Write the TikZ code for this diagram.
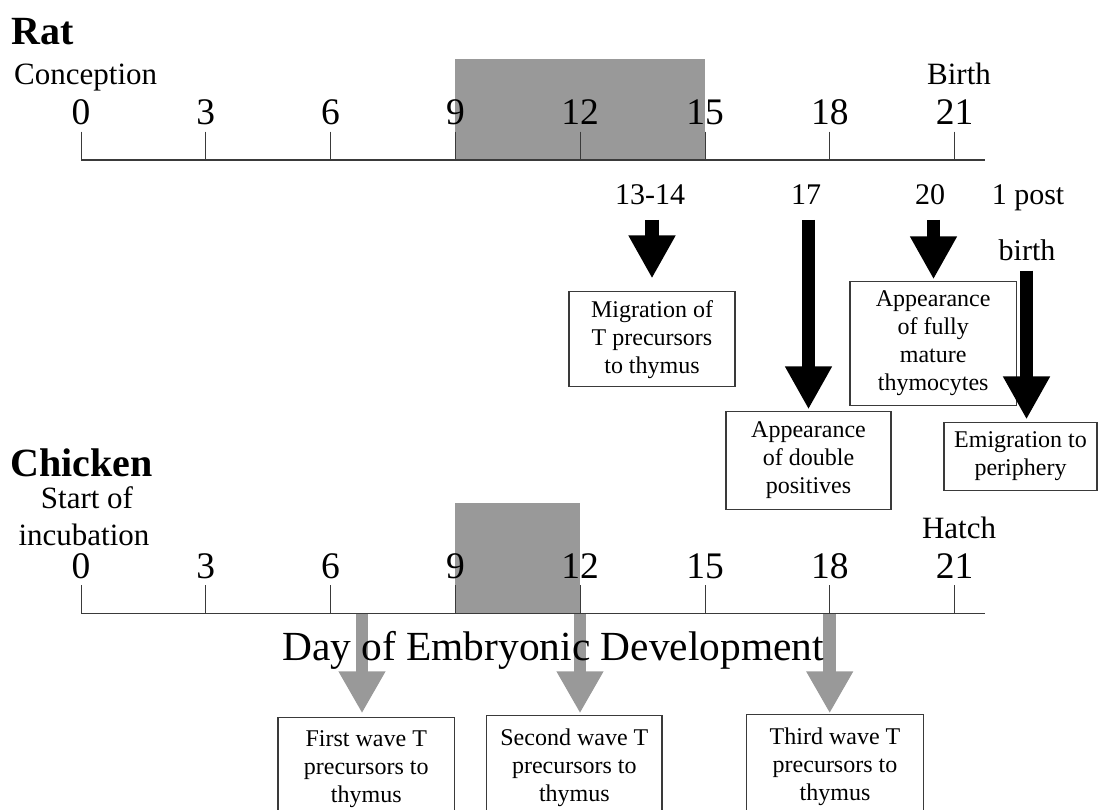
\documentclass[tikz,border=0pt]{standalone}
\usepackage{fontspec}
\setmainfont{Liberation Serif}
\usetikzlibrary{arrows.meta,calc}
\definecolor{bandgray}{HTML}{999999}
\definecolor{linegray}{HTML}{3A3A3A}
\begin{document}
\begin{tikzpicture}[x=1pt,y=-1pt,
  axisline/.style={draw=linegray,line width=1.6pt},
  tickline/.style={draw=linegray,line width=1pt},
  num/.style={font=\fontsize{37.5}{40}\selectfont,anchor=base,inner sep=0pt},
  lab/.style={font=\fontsize{31}{34}\selectfont,anchor=base,inner sep=0pt},
  evlab/.style={font=\fontsize{30}{33}\selectfont,anchor=base,inner sep=0pt},
  title/.style={font=\fontsize{40}{44}\selectfont\bfseries,anchor=base west,inner sep=0pt},
  evbox/.style={draw=linegray,line width=1.1pt,fill=white,align=center,
    font=\fontsize{24}{28}\selectfont,inner sep=0pt},
  blackarrow/.style={draw=black,line width=13.5pt,-{Triangle[width=44pt,length=43pt]}},
  grayarrow/.style={draw=bandgray,line width=12.5pt,-{Triangle[width=44pt,length=42pt]}}]
\useasboundingbox (0,0) rectangle (1099,810);
\clip (0,0) rectangle (1099,810);

% ---------- Rat timeline ----------
\fill[bandgray] (455,59.3) rectangle (704.5,160);
\draw[axisline] (81,160) -- (985,160);
\foreach \d in {0,3,...,21} {
  \draw[tickline] (81+41.6*\d,131.7) -- (81+41.6*\d,160);
  \node[num] (r\d) at (81+41.6*\d,125) {\d};
}
\node[title] (rat) at (11,45) {Rat};
\node[lab] (conception) at (85.7,85) {Conception};
\node[lab] (birth) at (959,85) {Birth};

\node[evlab] (e1) at (650,205) {13-14};
\node[evlab] (e2) at (806,205) {17};
\node[evlab] (e3) at (930,205) {20};
\node[evlab] (e4) at (1028,205) {1 post};
\node[evlab] (e4b) at (1027,260) {birth};

\node[evbox,minimum width=166pt,minimum height=95pt] (bA) at (652,339.2)
  {Migration of\\T precursors\\to thymus};
\node[evbox,minimum width=165pt,minimum height=98pt] (bB) at (808.5,460.6)
  {Appearance\\of double\\positives};
\node[evbox,minimum width=166.5pt,minimum height=124pt] (bC) at (933.2,343.4)
  {Appearance\\of fully\\mature\\thymocytes};
\node[evbox,minimum width=153pt,minimum height=68pt] (bD) at (1020.5,456.5)
  {Emigration to\\periphery};

\coordinate (s1) at (652,220);
\coordinate (s2) at (808.5,220);
\coordinate (s3) at (933.5,220);
\coordinate (s4) at (1026.5,270.7);
\draw[blackarrow,shorten >=12.7pt] (s1) -- (s1 |- bA.north);
\draw[blackarrow,shorten >=1.7pt] (s2) -- (s2 |- bB.north);
\draw[blackarrow,shorten >=1.5pt] (s3) -- (s3 |- bC.north);
\draw[blackarrow,shorten >=2.5pt] (s4) -- (s4 |- bD.north);

% ---------- Chicken timeline ----------
\fill[bandgray] (455,502.7) rectangle (579.5,613.3);
\node[title] (chicken) at (10,476.7) {Chicken};
\node[lab] (start) at (87,508) {Start of};
\node[lab] (incub) at (84,545) {incubation};
\node[lab] (hatch) at (959,538) {Hatch};

\node[evbox,anchor=north,minimum width=176.5pt,minimum height=104pt] (c1) at (366.25,716.7)
  {First wave T\\precursors to\\thymus};
\node[evbox,anchor=north,minimum width=175.3pt,minimum height=104pt] (c2) at (574.35,715)
  {Second wave T\\precursors to\\thymus};
\node[evbox,anchor=north,minimum width=177.4pt,minimum height=104pt] (c3) at (835,714)
  {Third wave T\\precursors to\\thymus};

\coordinate (g1) at (362,614);
\coordinate (g2) at (580,614);
\coordinate (g3) at (829.7,614);
\draw[grayarrow,shorten >=3.4pt] (g1) -- (g1 |- c1.north);
\draw[grayarrow,shorten >=1.7pt] (g2) -- (g2 |- c2.north);
\draw[grayarrow,shorten >=0.7pt] (g3) -- (g3 |- c3.north);

\draw[axisline] (81,613.3) -- (985,613.3);
\foreach \d in {0,3,...,21} {
  \draw[tickline] (81+41.6*\d,585) -- (81+41.6*\d,613.3);
  \node[num] (c\d n) at (81+41.6*\d,578) {\d};
}

\node[font=\fontsize{41.4}{44}\selectfont,anchor=base,inner sep=0pt] (dayaxis)
  at (553,660.7) {Day of Embryonic Development};
\end{tikzpicture}
\end{document}
